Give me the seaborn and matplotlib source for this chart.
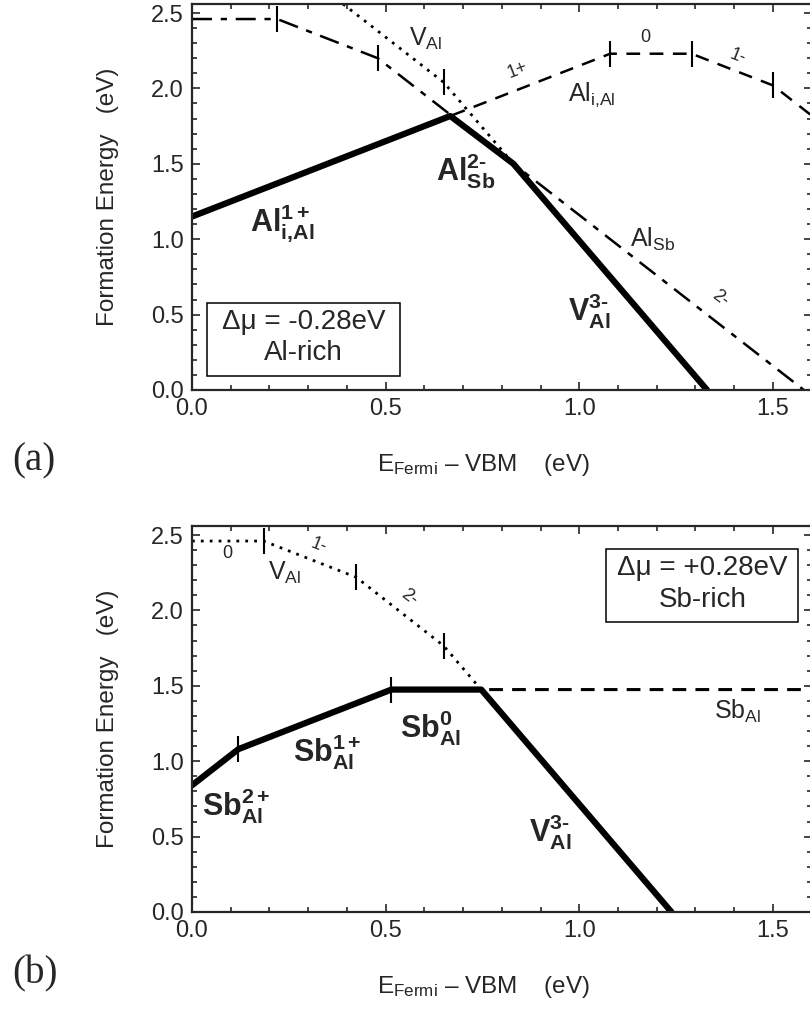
import numpy as np
import matplotlib
matplotlib.use("Agg")
import matplotlib.pyplot as plt
from matplotlib.patches import Rectangle
from matplotlib.ticker import MultipleLocator, FormatStrFormatter
import seaborn as sns

sns.set_style("ticks")
plt.rcParams["font.family"] = ["Liberation Sans", "DejaVu Sans"]
plt.rcParams["mathtext.fontset"] = "custom"
plt.rcParams["mathtext.rm"] = "Liberation Sans"
plt.rcParams["mathtext.it"] = "Liberation Sans:italic"
plt.rcParams["mathtext.bf"] = "Liberation Sans:bold"

# ---- panel (a): Al-rich, delta mu = -0.28 eV ----
a_alsb_x = [0.0, 0.22, 0.48, 1.58]
a_alsb_y = [2.46, 2.46, 2.20, 0.0]
a_ali_x = [0.0, 1.08, 1.29, 1.50, 1.60]
a_ali_y = [1.15, 2.23, 2.23, 2.02, 1.82]
a_val_x = [0.39, 0.65, 1.33]
a_val_y = [2.56, 2.04, 0.0]
a_low_x = [0.0, 0.667, 0.83, 1.33]
a_low_y = [1.15, 1.817, 1.50, 0.0]
a_trans_x = [0.22, 0.48, 1.08, 1.29, 1.50, 0.65]
a_trans_y = [2.46, 2.20, 2.23, 2.23, 2.02, 2.04]

# ---- panel (b): Sb-rich, delta mu = +0.28 eV ----
b_sbal_x = [0.0, 0.12, 0.515, 1.60]
b_sbal_y = [0.84, 1.08, 1.475, 1.475]
b_val_x = [0.0, 0.185, 0.424, 0.65, 1.238]
b_val_y = [2.46, 2.46, 2.22, 1.765, 0.0]
b_low_x = [0.0, 0.12, 0.515, 0.747, 1.238]
b_low_y = [0.84, 1.08, 1.475, 1.475, 0.0]
b_trans_x = [0.12, 0.515, 0.185, 0.424, 0.65]
b_trans_y = [1.08, 1.475, 2.46, 2.22, 1.765]

xmax, ymax = 1.6, 2.56
HY = "\u2010"  # short hyphen for charge states

dotted = (0, (1.0, 2.2))
dashed = (0, (5.5, 3.8))
dashdot = (0, (8.0, 3.5, 2.5, 3.5))
sb_dash = (0, (4.5, 3.0))


def angle(slope):
    # rotation of a label that follows a line of the given slope (eV/eV)
    return np.degrees(np.arctan(slope * 150.8 / 387.2))


def style_axes(ax):
    ax.set_xlim(0, xmax)
    ax.set_ylim(0, ymax)
    ax.xaxis.set_major_locator(MultipleLocator(0.5))
    ax.xaxis.set_minor_locator(MultipleLocator(0.1))
    ax.yaxis.set_major_locator(MultipleLocator(0.5))
    ax.yaxis.set_minor_locator(MultipleLocator(0.1))
    ax.xaxis.set_major_formatter(FormatStrFormatter("%.1f"))
    ax.yaxis.set_major_formatter(FormatStrFormatter("%.1f"))
    ax.tick_params(which="both", direction="in", top=True, right=True,
                   width=1.2, labelsize=17, pad=6)
    ax.tick_params(which="major", length=6)
    ax.tick_params(which="minor", length=3.5)
    for s in ax.spines.values():
        s.set_linewidth(1.6)
    ax.set_xlabel(r"$\mathrm{E_{Fermi}}$ – VBM    (eV)", fontsize=17.5)
    ax.set_ylabel("Formation Energy   (eV)", fontsize=17.5)
    ax.xaxis.set_label_coords(0.47, -0.16)
    ax.yaxis.set_label_coords(-0.118, 0.5)


def draw_line(ax, xs, ys, ls, lw):
    sns.lineplot(x=xs, y=ys, ax=ax, color="black", linewidth=lw,
                 linestyle=ls, estimator=None, sort=False)


def draw_trans(ax, xs, ys):
    sns.scatterplot(x=xs, y=ys, ax=ax, marker="|", s=330, color="black",
                    linewidth=1.5, zorder=5)


def info_box(ax, x0, y0, w, h, line1, line2):
    ax.add_patch(Rectangle((x0, y0), w, h, fill=False, ec="black", lw=1.1,
                           zorder=6))
    cx = x0 + w / 2
    ax.text(cx, y0 + h * 0.74, line1, fontsize=20, ha="center", va="center")
    ax.text(cx, y0 + h * 0.31, line2, fontsize=20, ha="center", va="center")


fig = plt.figure(figsize=(8.1, 10.14), dpi=100)
ax_a = fig.add_axes([0.237, 0.6154, 0.765, 0.3807])
ax_b = fig.add_axes([0.237, 0.1006, 0.765, 0.3807])

# ---------- (a) ----------
draw_line(ax_a, a_val_x, a_val_y, dotted, 2.0)
draw_line(ax_a, a_ali_x, a_ali_y, dashed, 1.8)
draw_line(ax_a, a_alsb_x, a_alsb_y, dashdot, 1.8)
draw_line(ax_a, a_low_x, a_low_y, "-", 4.5)
draw_trans(ax_a, a_trans_x, a_trans_y)
style_axes(ax_a)

big = dict(fontsize=22, va="center", ha="left")
ax_a.text(0.15, 1.10, r"$\mathbf{Al^{1+}_{i{,}Al}}$", **big)
ax_a.text(0.63, 1.45, r"$\mathbf{Al^{2" + HY + r"}_{Sb}}$", **big)
ax_a.text(0.97, 0.52, r"$\mathbf{V^{3" + HY + r"}_{Al}}$", **big)

reg = dict(fontsize=18, va="center", ha="left")
ax_a.text(0.56, 2.33, r"$\mathrm{V_{Al}}$", **reg)
ax_a.text(0.97, 1.96, r"$\mathrm{Al_{i{,}Al}}$", **reg)
ax_a.text(1.13, 1.00, r"$\mathrm{Al_{Sb}}$", **reg)

small = dict(fontsize=13, va="center", ha="center")
ax_a.text(0.84, 2.12, "1+", rotation=angle(1), **small)
ax_a.text(1.17, 2.34, "0", **small)
ax_a.text(1.41, 2.21, "1-", rotation=angle(-1), **small)
ax_a.text(1.364, 0.61, "2-", rotation=angle(-2), **small)

info_box(ax_a, 0.04, 0.093, 0.497, 0.484, "Δμ = -0.28eV", "Al-rich")

fig.text(0.015, 0.545, "(a)", fontsize=28, family="Liberation Serif",
         va="center", ha="left")

# ---------- (b) ----------
draw_line(ax_b, b_val_x, b_val_y, dotted, 2.0)
draw_line(ax_b, b_sbal_x, b_sbal_y, sb_dash, 2.2)
draw_line(ax_b, b_low_x, b_low_y, "-", 4.5)
draw_trans(ax_b, b_trans_x, b_trans_y)
style_axes(ax_b)

ax_b.text(0.027, 0.70, r"$\mathbf{Sb^{2+}_{Al}}$", **big)
ax_b.text(0.26, 1.06, r"$\mathbf{Sb^{1+}_{Al}}$", **big)
ax_b.text(0.538, 1.22, r"$\mathbf{Sb^{0}_{Al}}$", **big)
ax_b.text(0.87, 0.53, r"$\mathbf{V^{3" + HY + r"}_{Al}}$", **big)

ax_b.text(0.197, 2.25, r"$\mathrm{V_{Al}}$", **reg)
ax_b.text(1.348, 1.33, r"$\mathrm{Sb_{Al}}$", **reg)

ax_b.text(0.09, 2.38, "0", **small)
ax_b.text(0.327, 2.43, "1-", rotation=angle(-1), **small)
ax_b.text(0.56, 2.09, "2-", rotation=angle(-2), **small)

info_box(ax_b, 1.07, 1.92, 0.496, 0.484, "Δμ = +0.28eV", "Sb-rich")

fig.text(0.015, 0.04, "(b)", fontsize=28, family="Liberation Serif",
         va="center", ha="left")

fig.savefig("out.png", dpi=100)
